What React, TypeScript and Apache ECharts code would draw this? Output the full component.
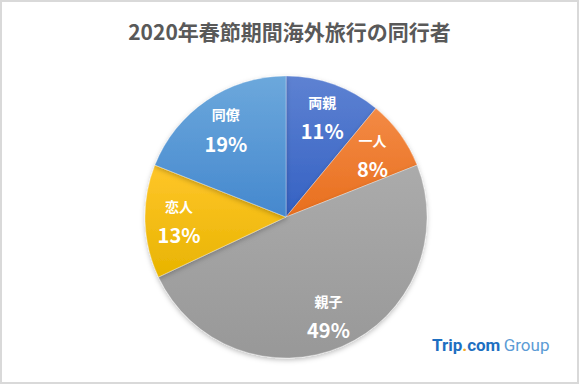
import React, { useEffect, useRef } from "react";
import * as echarts from "echarts";

const categories = ["両親", "一人", "親子", "恋人", "同僚"];
const values = [11, 8, 49, 13, 19];
const topColors = ["#5E82D2", "#F38A45", "#ABABAB", "#FFC62A", "#6CA8DC"];
const bottomColors = ["#3461C3", "#E86F1E", "#989898", "#E8B400", "#4588CE"];
const titleText = "2020年春節期間海外旅行の同行者";

export default function App() {
  const ref = useRef<HTMLDivElement>(null);
  useEffect(() => {
    document.body.style.margin = "0";
    const chart = echarts.init(ref.current!, undefined, { renderer: "svg" });
    const data = categories.map((name, i) => ({
      name,
      value: values[i],
      itemStyle: {
        color: new echarts.graphic.LinearGradient(0, 0, 0, 1, [
          { offset: 0, color: topColors[i] },
          { offset: 1, color: bottomColors[i] },
        ]),
      },
    }));
    const labelData = categories.map((name, i) => ({ name, value: values[i] }));
    chart.setOption({
      animation: false,
      backgroundColor: "#ffffff",
      title: {
        text: titleText,
        left: "center",
        top: 15,
        textStyle: {
          fontFamily: "Noto Sans CJK JP",
          fontWeight: "bold",
          fontSize: 21,
          color: "#595959",
        },
      },
      series: [
        {
          type: "pie",
          center: [286, 217],
          radius: [0, 141],
          startAngle: 90,
          clockwise: true,
          silent: true,
          label: { show: false },
          labelLine: { show: false },
          itemStyle: {
            borderColor: "rgba(255,255,255,0.6)",
            borderWidth: 0.5,
            shadowBlur: 5,
            shadowColor: "rgba(0,0,0,0.25)",
            shadowOffsetY: 2,
          },
          data,
        },
        {
          type: "pie",
          center: [286, 217],
          radius: [68, 140],
          startAngle: 90,
          clockwise: true,
          silent: true,
          itemStyle: { color: "transparent" },
          labelLine: { show: false },
          label: {
            show: true,
            position: "inside",
            formatter: "{n|{b}}\n{p|{c}%}",
            rich: {
              n: {
                fontFamily: "Noto Sans CJK JP",
                fontWeight: "bold",
                fontSize: 14,
                color: "#ffffff",
                lineHeight: 29,
              },
              p: {
                fontFamily: "Noto Sans CJK JP",
                fontWeight: "bold",
                fontSize: 20,
                color: "#ffffff",
                lineHeight: 29,
              },
            },
          },
          data: labelData,
        },
      ],
      graphic: [
        {
          type: "rect",
          shape: { x: 1, y: 1, width: 577, height: 382 },
          style: { fill: "none", stroke: "#d9d9d9", lineWidth: 2 },
          silent: true,
        },
        {
          type: "text",
          left: 432,
          top: 336,
          style: {
            text: "{a|Trip}{d|.}{a|com} {g|Group}",
            rich: {
              a: { fontFamily: "Roboto", fontWeight: "bold", fontSize: 17, fill: "#1D6FC1" },
              d: { fontFamily: "Roboto", fontWeight: "bold", fontSize: 17, fill: "#F5A623" },
              g: { fontFamily: "Roboto", fontWeight: "normal", fontSize: 17, fill: "#5B9BD5" },
            },
          },
        },
      ],
    });
    return () => chart.dispose();
  }, []);
  return <div ref={ref} style={{ position: "absolute", left: 0, top: 0, width: 579, height: 384 }} />;
}
